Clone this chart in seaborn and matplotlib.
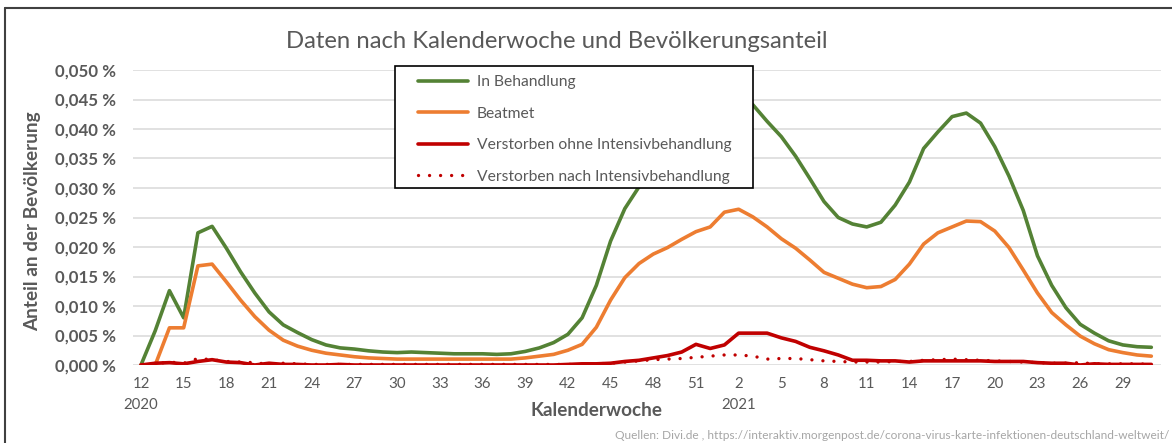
import numpy as np
import pandas as pd
import matplotlib
matplotlib.use("Agg")
import matplotlib.pyplot as plt
from matplotlib.patches import Rectangle
from matplotlib.lines import Line2D
import seaborn as sns

# Kalenderwochen 12/2020 .. 31/2021
weeks = list(range(12, 53)) + list(range(1, 32))

in_behandlung = [
    0.0000, 0.0058, 0.0126, 0.0080, 0.0224, 0.0235, 0.0198, 0.0158, 0.0122, 0.0090,
    0.0068, 0.0055, 0.0043, 0.0034, 0.0029, 0.0027, 0.0024, 0.0022, 0.0021, 0.0022,
    0.0021, 0.0020, 0.0019, 0.0019, 0.0019, 0.0018, 0.0019, 0.0023, 0.0029, 0.0038,
    0.0052, 0.0080, 0.0135, 0.0210, 0.0265, 0.0302, 0.0330, 0.0358, 0.0382, 0.0405,
    0.0428, 0.0448, 0.0458, 0.0441, 0.0413, 0.0387, 0.0354, 0.0316, 0.0277, 0.0250,
    0.0239, 0.0234, 0.0242, 0.0271, 0.0310, 0.0367, 0.0395, 0.0421, 0.0427, 0.0410,
    0.0370, 0.0320, 0.0262, 0.0185, 0.0135, 0.0097, 0.0069, 0.0054, 0.0041, 0.0034,
    0.0031, 0.0030,
]

beatmet = [
    0.0000, 0.0000, 0.0063, 0.0063, 0.0168, 0.0171, 0.0141, 0.0110, 0.0082, 0.0059,
    0.0042, 0.0032, 0.0025, 0.0020, 0.0017, 0.0014, 0.0012, 0.0011, 0.0010, 0.0010,
    0.0010, 0.0010, 0.0010, 0.0010, 0.0010, 0.0010, 0.0010, 0.0012, 0.0015, 0.0018,
    0.0025, 0.0035, 0.0064, 0.0110, 0.0148, 0.0172, 0.0188, 0.0199, 0.0213, 0.0226,
    0.0234, 0.0259, 0.0264, 0.0251, 0.0234, 0.0214, 0.0198, 0.0178, 0.0157, 0.0147,
    0.0137, 0.0131, 0.0133, 0.0145, 0.0171, 0.0205, 0.0224, 0.0234, 0.0244, 0.0243,
    0.0227, 0.0199, 0.0161, 0.0122, 0.0089, 0.0068, 0.0049, 0.0036, 0.0026, 0.0021,
    0.0017, 0.0015,
]

verst_ohne = [
    0.0000, 0.0003, 0.0004, 0.0002, 0.0006, 0.0009, 0.0005, 0.0004, 0.0000, 0.0003,
    0.0001, 0.0001, 0.0000, 0.0000, 0.0001, 0.0000, 0.0000, 0.0000, 0.0000, 0.0000,
    0.0000, 0.0000, 0.0000, 0.0000, 0.0000, 0.0000, 0.0000, 0.0000, 0.0000, 0.0000,
    0.0001, 0.0002, 0.0002, 0.0003, 0.0006, 0.0008, 0.0012, 0.0016, 0.0022, 0.0035,
    0.0028, 0.0034, 0.0054, 0.0054, 0.0054, 0.0046, 0.0040, 0.0030, 0.0024, 0.0017,
    0.0008, 0.0008, 0.0007, 0.0007, 0.0005, 0.0007, 0.0007, 0.0007, 0.0007, 0.0007,
    0.0006, 0.0006, 0.0006, 0.0004, 0.0003, 0.0003, 0.0000, 0.0002, 0.0001, 0.0001,
    0.0001, 0.0001,
]

verst_nach = [
    0.0000, 0.0002, 0.0005, 0.0003, 0.0011, 0.0009, 0.0006, 0.0005, 0.0004, 0.0001,
    0.0003, 0.0002, 0.0001, 0.0001, 0.0001, 0.0001, 0.0001, 0.0001, 0.0001, 0.0001,
    0.0001, 0.0001, 0.0001, 0.0001, 0.0001, 0.0001, 0.0001, 0.0001, 0.0001, 0.0001,
    0.0001, 0.0001, 0.0002, 0.0003, 0.0005, 0.0007, 0.0009, 0.0010, 0.0011, 0.0013,
    0.0015, 0.0017, 0.0017, 0.0015, 0.0010, 0.0011, 0.0011, 0.0009, 0.0007, 0.0006,
    0.0005, 0.0005, 0.0005, 0.0006, 0.0006, 0.0008, 0.0009, 0.0010, 0.0009, 0.0008,
    0.0007, 0.0006, 0.0005, 0.0004, 0.0003, 0.0003, 0.0004, 0.0002, 0.0002, 0.0002,
    0.0002, 0.0001,
]

labels = ["In Behandlung", "Beatmet", "Verstorben ohne Intensivbehandlung",
          "Verstorben nach Intensivbehandlung"]
colors = ["#548235", "#ED7D31", "#C00000", "#C00000"]

df = pd.DataFrame({
    "idx": np.arange(len(weeks)),
    "woche": weeks,
    labels[0]: in_behandlung,
    labels[1]: beatmet,
    labels[2]: verst_ohne,
    labels[3]: verst_nach,
})

sns.set_style("white")
plt.rcParams["font.family"] = ["Lato", "DejaVu Sans"]
gray = "#595959"

W, H = 1172, 443
fig = plt.figure(figsize=(W / 100, H / 100), dpi=100)
fig.patch.set_facecolor("white")


def fx(px):
    return px / W


def fy(py):
    return 1 - py / H


ax = fig.add_axes([fx(133), fy(365), fx(1161) - fx(133), fy(70) - fy(365)])

dotted = (0, (0.01, 3.3))
for i, lab in enumerate(labels):
    kw = dict(linewidth=2.6, solid_capstyle="round")
    if i == 3:
        kw = dict(linewidth=2.4, linestyle=dotted, dash_capstyle="round")
    sns.lineplot(data=df, x="idx", y=lab, color=colors[i], ax=ax, **kw)

ax.set_xlim(-0.56, 71.68)
ax.set_ylim(0, 0.050)
yt = np.arange(0, 0.0501, 0.005)
ax.set_yticks(yt)
ax.set_yticklabels([f"{v:.3f} %".replace(".", ",") for v in yt],
                   fontsize=12.2, fontweight="bold", color=gray)
xt = list(range(0, len(weeks), 3))
xl = []
for i in xt:
    s = str(weeks[i])
    if i == 0:
        s += "\n2020"
    elif weeks[i] == 2 and i > 40:
        s += "\n2021"
    xl.append(s)
ax.set_xticks(xt)
ax.set_xticklabels(xl, fontsize=10.8, color=gray)
for t in ax.get_xticklabels():
    t.set_linespacing(1.55)
ax.tick_params(axis="y", length=0, pad=12)
ax.tick_params(axis="x", length=0, pad=9)
ax.grid(axis="y", color="#d9d9d9", linewidth=1.1)
ax.grid(axis="x", visible=False)
for s in ax.spines.values():
    s.set_visible(False)
ax.set_xlabel("")
ax.set_ylabel("")
if ax.get_legend() is not None:
    ax.get_legend().remove()

# Titel und Achsentitel
fig.text(fx(557), fy(42), "Daten nach Kalenderwoche und Bevölkerungsanteil",
         ha="center", va="center", fontsize=17.2, color=gray)
fig.text(fx(597), fy(410), "Kalenderwoche", ha="center", va="center",
         fontsize=13.6, fontweight="bold", color=gray)
fig.text(fx(33), fy(221), "Anteil an der Bevölkerung", ha="center", va="center",
         rotation=90, fontsize=13.6, fontweight="bold", color=gray)
fig.text(fx(1169), fy(435.5),
         "Quellen: Divi.de , https://interaktiv.morgenpost.de/corona-virus-karte-infektionen-deutschland-weltweit/",
         ha="right", va="center", fontsize=8.6, color="#a6a6a6")

# Legende mit eigenem Rahmen
fig.add_artist(Rectangle((fx(395), fy(188)), fx(753) - fx(395), fy(66) - fy(188),
                         transform=fig.transFigure, facecolor="white",
                         edgecolor="black", linewidth=1.2, zorder=4))
handles = [
    Line2D([], [], color=colors[0], linewidth=2.6),
    Line2D([], [], color=colors[1], linewidth=2.6),
    Line2D([], [], color=colors[2], linewidth=2.6),
    Line2D([], [], color=colors[3], linewidth=2.4, linestyle=dotted,
           dash_capstyle="round"),
]
leg = fig.legend(handles, labels, loc="upper left",
                 bbox_to_anchor=(fx(418), fy(75)), borderaxespad=0, borderpad=0,
                 frameon=False, fontsize=11.25, handlelength=3.2,
                 handletextpad=0.55, labelspacing=1.12, labelcolor=gray)
leg.set_zorder(5)

# Rahmen des Diagrammbereichs
fig.add_artist(Line2D([fx(5), fx(5)], [fy(8), 0], transform=fig.transFigure,
                      color="#404040", linewidth=1.5))
fig.add_artist(Line2D([fx(5), 1], [fy(8), fy(8)], transform=fig.transFigure,
                      color="#404040", linewidth=1.5))

fig.savefig("out.png", dpi=100)
